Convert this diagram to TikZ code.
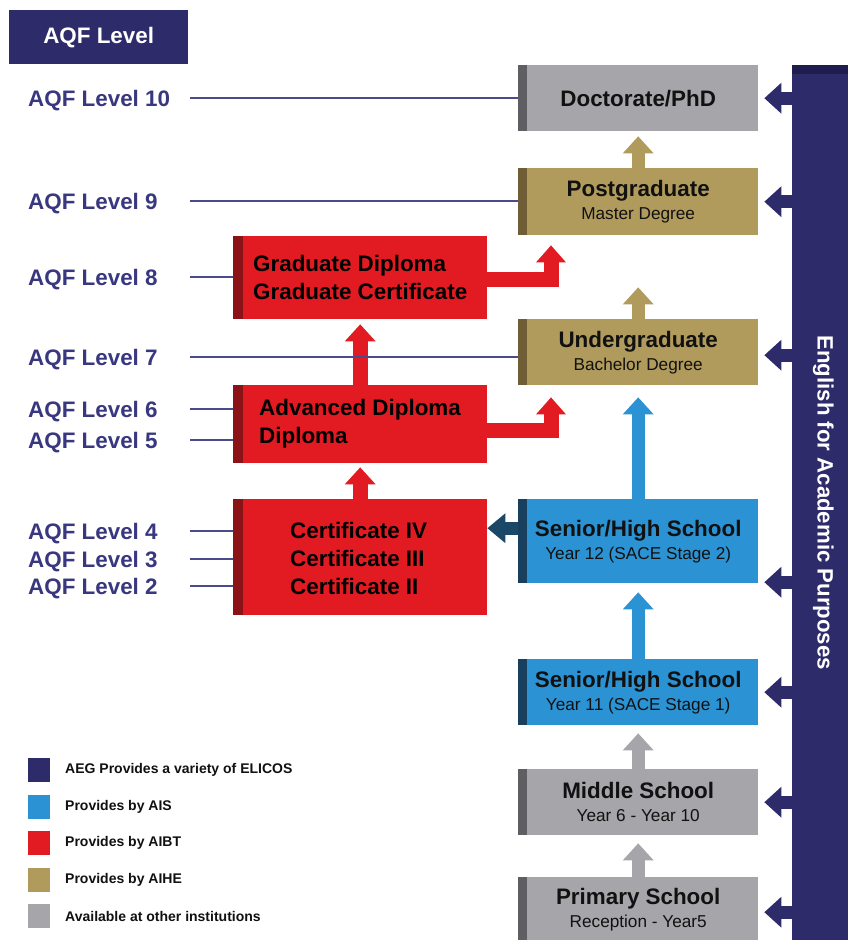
\documentclass[tikz,border=0pt]{standalone}
\usepackage{fontspec}
\setmainfont{Liberation Sans}
\usetikzlibrary{arrows.meta}
\definecolor{navy}{HTML}{2E2B6B}
\definecolor{navydark}{HTML}{1F1D4D}
\definecolor{lvltext}{HTML}{38377F}
\definecolor{lvlline}{HTML}{4A4A8C}
\definecolor{boxgray}{HTML}{A6A6AA}
\definecolor{stripgray}{HTML}{5F5F63}
\definecolor{boxgold}{HTML}{B09B5C}
\definecolor{stripgold}{HTML}{6E5D35}
\definecolor{boxblue}{HTML}{2B93D3}
\definecolor{stripblue}{HTML}{18405E}
\definecolor{boxred}{HTML}{E21B22}
\definecolor{stripred}{HTML}{8B1216}
\definecolor{darkarrow}{HTML}{1B4866}
\definecolor{inktext}{HTML}{111111}
\newcommand\ttlfont{\fontsize{22.4}{23}\selectfont\bfseries}
\newcommand\sbtfont{\fontsize{17.2}{23}\selectfont\mdseries}
\begin{document}
\begin{tikzpicture}[x=1pt,y=-1pt,
  stagebox/.style n args={3}{fill=#1, draw=none, minimum width=240pt, minimum height=#3,
    inner sep=0pt, align=center, anchor=north west, text=inktext, font=\ttlfont,
    path picture={\fill[#2] (path picture bounding box.north west) rectangle ([xshift=9pt]path picture bounding box.south west);}},
  redbox/.style n args={1}{fill=boxred, draw=none, minimum width=254pt, minimum height=#1,
    inner sep=0pt, anchor=north west,
    path picture={\fill[stripred] (path picture bounding box.north west) rectangle ([xshift=10pt]path picture bounding box.south west);}},
  redtext/.style={anchor=west, align=left, inner sep=0pt, text=black, font=\fontsize{22.4}{28}\selectfont\bfseries},
  lvl/.style={anchor=west, inner sep=0pt, text height=16pt, text depth=0pt, text=lvltext, font=\fontsize{22.4}{24}\selectfont\bfseries},
  lvlconn/.style={draw=lvlline, line width=1.5pt},
  uparr/.style={draw=#1, line width=13pt, -{Triangle[width=31pt,length=17pt,line width=0pt]}},
  redup/.style={draw=boxred, line width=15pt, -{Triangle[width=31pt,length=17pt,line width=0pt]}},
  redelbow/.style={draw=boxred, line width=15pt, line join=miter, -{Triangle[width=30pt,length=17pt,line width=0pt]}},
  navarr/.style={draw=navy, line width=13pt, -{Triangle[width=31pt,length=17pt,line width=0pt]}, shorten >=6pt},
  legsq/.style={fill=#1, draw=none, minimum width=22pt, minimum height=24pt, inner sep=0pt, anchor=west},
  legtext/.style={anchor=west, inner sep=0pt, text=inktext, font=\fontsize{14}{16}\selectfont\bfseries}
]
\useasboundingbox[fill=white] (0,0) rectangle (848,940);

% header
\node[fill=navy, minimum width=179pt, minimum height=54pt, inner sep=0pt, anchor=north west,
      text=white, font=\fontsize{22.4}{24}\selectfont\bfseries] (hdr) at (9,10) {AQF Level};

% right bar
\node[fill=navy, minimum width=56pt, minimum height=875pt, inner sep=0pt, anchor=north west,
      path picture={\fill[navydark] (path picture bounding box.north west) rectangle ([yshift=-9pt]path picture bounding box.north east);}] (bar) at (792,65) {};
\node[rotate=-90, text=white, inner sep=0pt, font=\fontsize{22.2}{24}\selectfont\bfseries] (eap) at ([xshift=3pt]bar.center) {English for Academic Purposes};

% stage boxes
\node[stagebox={boxgray}{stripgray}{66pt}] (doc) at (518,65) {Doctorate/PhD};
\node[stagebox={boxgold}{stripgold}{67pt}] (pg) at (518,168) {Postgraduate\\{\sbtfont Master Degree}};
\node[stagebox={boxgold}{stripgold}{66pt}] (ug) at (518,319) {Undergraduate\\{\sbtfont Bachelor Degree}};
\node[stagebox={boxblue}{stripblue}{84pt}] (s12) at (518,499) {Senior/High School\\{\sbtfont Year 12 (SACE Stage 2)}};
\node[stagebox={boxblue}{stripblue}{66pt}] (s11) at (518,659) {Senior/High School\\{\sbtfont Year 11 (SACE Stage 1)}};
\node[stagebox={boxgray}{stripgray}{66pt}] (ms) at (518,769) {Middle School\\{\sbtfont Year 6 - Year 10}};
\node[stagebox={boxgray}{stripgray}{64pt}] (ps) at (518,877) {Primary School\\{\sbtfont Reception - Year5}};

% red boxes
\node[redbox={83pt}] (gd) at (233,236) {};
\node[redbox={78pt}] (ad) at (233,385) {};
\node[redbox={116pt}] (cert) at (233,499) {};
\node[redtext] (gdt) at ([xshift=20pt]gd.west) {Graduate Diploma\\Graduate Certificate};
\node[redtext] (adt) at ([xshift=26pt]ad.west) {Advanced Diploma\\Diploma};
\node[redtext] (certt) at ([xshift=57pt,yshift=-1pt]cert.west) {Certificate IV\\Certificate III\\Certificate II};

% vertical progression arrows
\draw[uparr=boxgold, shorten >=5pt] (pg.north) -- (doc.south);
\draw[uparr=boxgold, shorten >=52pt] (ug.north) -- (pg.south);
\draw[uparr=boxblue, shorten >=12pt] (s12.north) -- (ug.south);
\draw[uparr=boxblue, shorten >=9pt] (s11.north) -- (s12.south);
\draw[uparr=boxgray, shorten >=8pt] (ms.north) -- (s11.south);
\draw[uparr=boxgray, shorten >=8pt] (ps.north) -- (ms.south);
\draw[redup, shorten >=4pt] (cert.north) -- (ad.south);
\draw[redup, shorten >=5pt] (ad.north) -- (gd.south);

% elbow arrows
\draw[redelbow, shorten >=10pt] ([yshift=-2pt]gd.east) -| ([xshift=33pt]pg.south west);
\draw[redelbow, shorten >=12pt] ([yshift=-6pt]ad.east) -| ([xshift=33pt]ug.south west);

% senior -> certificate
\coordinate (s12w) at ([yshift=13pt]s12.west);
\draw[draw=darkarrow, line width=13pt, -{Triangle[width=30pt,length=18pt,line width=0pt]}] (s12w) -- (s12w -| cert.east);

% EAP arrows
\coordinate (docE) at (doc.east);
\coordinate (pgE) at (pg.east);
\coordinate (ugE) at ([yshift=-3pt]ug.east);
\coordinate (s12E) at ([yshift=-41pt]s12.east);
\coordinate (s11E) at (s11.east);
\coordinate (msE) at (ms.east);
\coordinate (psE) at ([yshift=-3pt]ps.east);
\foreach \c in {docE,pgE,ugE,s12E,s11E,msE,psE}
  \draw[navarr] (bar.west |- \c) -- (\c);

% AQF level labels
\coordinate (lx) at (190,0);
\node[lvl] (l10) at (28,98) {AQF Level 10};
\node[lvl] (l9) at (28,201) {AQF Level 9};
\node[lvl] (l8) at (28,277) {AQF Level 8};
\node[lvl] (l7) at (28,357) {AQF Level 7};
\node[lvl] (l6) at (28,409) {AQF Level 6};
\node[lvl] (l5) at (28,440) {AQF Level 5};
\node[lvl] (l4) at (28,531) {AQF Level 4};
\node[lvl] (l3) at (28,559) {AQF Level 3};
\node[lvl] (l2) at (28,586) {AQF Level 2};
\draw[lvlconn] (l10 -| lx) -- (l10 -| doc.west);
\draw[lvlconn] (l9 -| lx) -- (l9 -| pg.west);
\draw[lvlconn] (l8 -| lx) -- (l8 -| gd.west);
\draw[lvlconn] (l7 -| lx) -- (l7 -| ug.west);
\draw[lvlconn] (l6 -| lx) -- (l6 -| ad.west);
\draw[lvlconn] (l5 -| lx) -- (l5 -| ad.west);
\draw[lvlconn] (l4 -| lx) -- (l4 -| cert.west);
\draw[lvlconn] (l3 -| lx) -- (l3 -| cert.west);
\draw[lvlconn] (l2 -| lx) -- (l2 -| cert.west);

% legend
\node[legsq=navy] (k1) at (28,770) {};
\node[legsq=boxblue] (k2) at (28,806.5) {};
\node[legsq=boxred] (k3) at (28,843) {};
\node[legsq=boxgold] (k4) at (28,879.5) {};
\node[legsq=boxgray] (k5) at (28,916) {};
\node[legtext] (t1) at (65,770) {AEG Provides a variety of ELICOS};
\node[legtext] (t2) at (65,806.5) {Provides by AIS};
\node[legtext] (t3) at (65,843) {Provides by AIBT};
\node[legtext] (t4) at (65,879.5) {Provides by AIHE};
\node[legtext] (t5) at (65,916) {Available at other institutions};
\end{tikzpicture}
\end{document}
